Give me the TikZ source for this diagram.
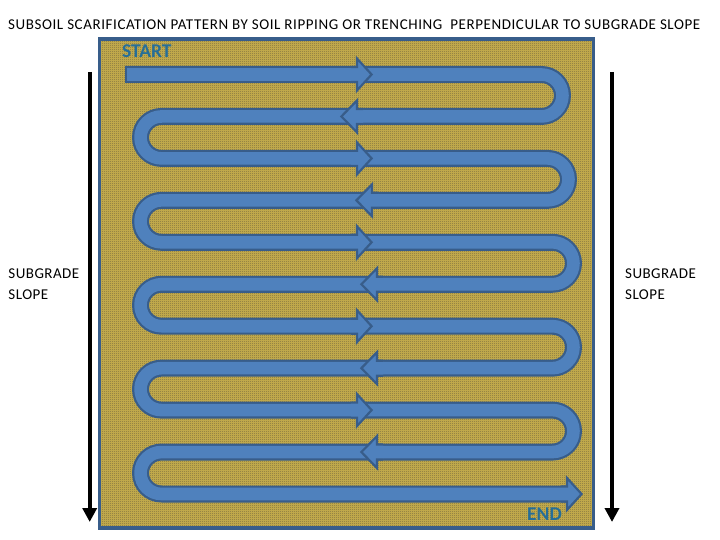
\documentclass[tikz,border=0pt]{standalone}
\usepackage{fontspec}
\setmainfont{Carlito}
\newfontfamily\spacedfont[LetterSpace=3]{Carlito}
\newfontfamily\titlefont[LetterSpace=3.9]{Carlito}
\usetikzlibrary{arrows.meta,patterns.meta}
\definecolor{bandfill}{HTML}{4F81BD}
\definecolor{bandline}{HTML}{385D8A}
\definecolor{soillight}{RGB}{205,180,78}
\definecolor{soildark}{RGB}{95,85,58}
\definecolor{labelblue}{RGB}{38,110,152}
\tikzdeclarepattern{
  name=soilchecker,
  type=uncolored,
  bounding box={(0pt,0pt) and (2pt,2pt)},
  tile size={(2pt,2pt)},
  code={\fill (0pt,0pt) rectangle (1pt,1pt); \fill (1pt,1pt) rectangle (2pt,2pt);}
}
\newcommand\headR[3]{%
  \fill[bandfill] (#1-6,#3+7.5) -- (#1,#3+7.5) -- (#1,#3+16) -- (#2-1.4,#3) -- (#1,#3-16) -- (#1,#3-7.5) -- (#1-6,#3-7.5) -- cycle;
  \draw[headline] (#1-6,#3+7.5) -- (#1,#3+7.5) -- (#1,#3+16) -- (#2-1.4,#3) -- (#1,#3-16) -- (#1,#3-7.5) -- (#1-6,#3-7.5);}
\newcommand\headL[3]{%
  \fill[bandfill] (#1+6,#3+7.5) -- (#1,#3+7.5) -- (#1,#3+16) -- (#2+1.4,#3) -- (#1,#3-16) -- (#1,#3-7.5) -- (#1+6,#3-7.5) -- cycle;
  \draw[headline] (#1+6,#3+7.5) -- (#1,#3+7.5) -- (#1,#3+16) -- (#2+1.4,#3) -- (#1,#3-16) -- (#1,#3-7.5) -- (#1+6,#3-7.5);}
\begin{document}
\begin{tikzpicture}[x=1pt,y=1pt,
  band/.style={draw=bandline, double=bandfill, line width=2.2pt, double distance=12.6pt, line join=round},
  headline/.style={draw=bandline, line width=2.2pt, line join=miter},
  titletext/.style={anchor=base west, inner sep=0pt, font=\titlefont\fontsize{15}{17}\selectfont},
  sidetext/.style={anchor=base west, inner sep=0pt, align=left, font=\spacedfont\fontsize{15}{21}\selectfont},
  tagtext/.style={anchor=base west, inner sep=0pt, text=labelblue, font=\fontsize{19.5}{22}\selectfont\bfseries},
  slope/.style={line width=4pt, -{Triangle[length=14pt,width=14pt]}}]
\useasboundingbox (0,0) rectangle (720,-540);
\fill[white] (0,0) rectangle (720,-540);
% field
\fill[soillight] (99.5,-39) rectangle (593.7,-528);
\fill[pattern=soilchecker, pattern color=soildark] (99.5,-39) rectangle (593.7,-528);
\draw[bandline, line width=3.5pt] (99.5,-39) rectangle (593.7,-528);
% serpentine band
\draw[band] (125,-74.5) -- (541.5,-74.5) arc[start angle=90,end angle=-90,radius=20.975]
  -- (161.5,-116.45) arc[start angle=90,end angle=270,radius=20.975]
  -- (547.5,-158.4) arc[start angle=90,end angle=-90,radius=20.975]
  -- (161.5,-200.35) arc[start angle=90,end angle=270,radius=20.975]
  -- (552.5,-242.3) arc[start angle=90,end angle=-90,radius=20.975]
  -- (161.5,-284.25) arc[start angle=90,end angle=270,radius=20.975]
  -- (552.5,-326.2) arc[start angle=90,end angle=-90,radius=20.975]
  -- (161.5,-368.15) arc[start angle=90,end angle=270,radius=20.975]
  -- (552.5,-410.1) arc[start angle=90,end angle=-90,radius=20.975]
  -- (161.5,-452.05) arc[start angle=90,end angle=270,radius=20.975]
  -- (567,-494);
\draw[bandline, line width=2.2pt] (126.1,-66) -- (126.1,-83);
% arrow heads
\headR{357}{373}{-74.5}
\headL{357}{340}{-116.45}
\headR{357}{373}{-158.4}
\headL{372}{355}{-200.35}
\headR{357}{373}{-242.3}
\headL{377}{360}{-284.25}
\headR{357}{373}{-326.2}
\headL{377}{360}{-368.15}
\headR{357}{373}{-410.1}
\headL{377}{360}{-452.05}
\headR{567}{583}{-494}
% texts
\node[titletext] (title) at (8,-29.3) {SUBSOIL SCARIFICATION PATTERN BY SOIL RIPPING OR TRENCHING\ \ PERPENDICULAR TO SUBGRADE SLOPE};
\node[tagtext] (start) at (122,-58) {START};
\node[tagtext] (end) at (527,-520) {END};
\node[sidetext] (lefttext) at (8.3,-299) {SUBGRADE\\SLOPE};
\node[sidetext] (righttext) at (625,-299) {SUBGRADE\\SLOPE};
% slope arrows
\coordinate (lt) at (89.7,-72);
\coordinate (lb) at (89.7,-522);
\coordinate (rt) at (612,-72);
\coordinate (rb) at (612,-522);
\draw[slope] (lt) -- (lb);
\draw[slope] (rt) -- (rb);
\end{tikzpicture}
\end{document}
